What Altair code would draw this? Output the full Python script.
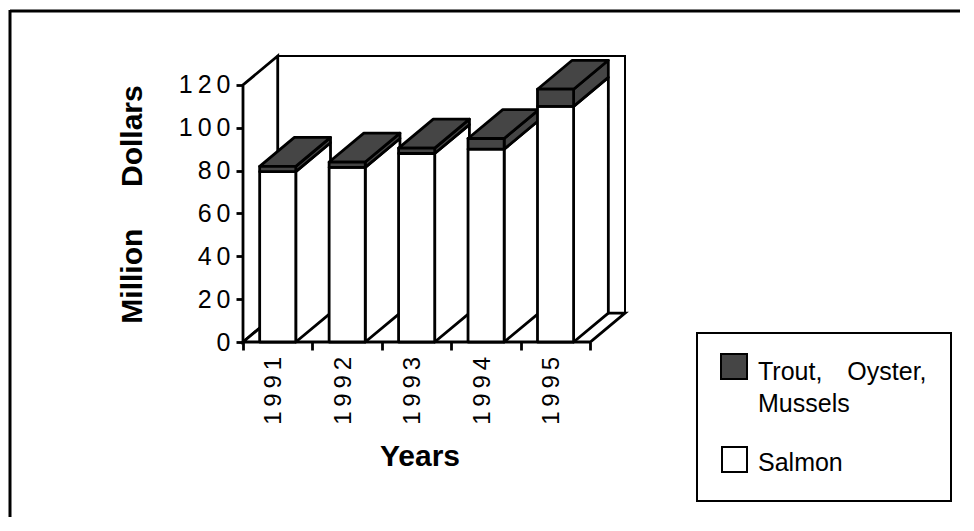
import altair as alt
import pandas as pd

# ---------------- data ----------------
years = ["1991", "1992", "1993", "1994", "1995"]
salmon = [79.5, 81.5, 88.0, 90.0, 110.0]
trout = [2.5, 2.5, 2.5, 5.0, 8.0]
y_ticks = [0, 20, 40, 60, 80, 100, 120]
series_labels = ["Trout, Oyster, Mussels", "Salmon"]
y_title = "Million Dollars"
x_title = "Years"

# ---------------- layout / style ----------------
FONT = "Liberation Sans"
INK = "black"
WHITE = "white"
STIPPLE = "#454545"
DX, DY = 0.5, 13.5          # 3-D depth (x in slot units, y in value units)
BAR_L, BAR_W = 0.24, 0.52   # bar position inside its slot
YMAX = 120
N = len(years)
W, H = 382, 286
PAD_L, PAD_T = 235, 48
THIN = "\u2009"
NB = "\u00a0"
SW = 2.8

xs = alt.Scale(domain=[0, N + DX], nice=False, zero=False)
ys = alt.Scale(domain=[0, YMAX + DY], nice=False, zero=False)
x_axis = alt.Axis(values=list(range(N + 1)), labels=False, domain=False, grid=False,
                  tickSize=8, tickWidth=SW, tickColor=INK, title=None)
y_axis = alt.Axis(values=y_ticks, domain=False, grid=False, tickSize=7, tickWidth=SW,
                  tickColor=INK, labelFont=FONT, labelFontSize=25, labelColor=INK,
                  labelPadding=6,
                  labelExpr=f"join(split(datum.label, ''), '{THIN}')", title=None)


def X(f):
    return alt.X(f, type="quantitative", scale=xs, axis=x_axis)


def Y(f):
    return alt.Y(f, type="quantitative", scale=ys, axis=y_axis, stack=None)


# walls
back = pd.DataFrame([{"x": DX, "x2": N + DX, "y": DY, "y2": YMAX + DY}])
left_wall = pd.DataFrame([{"x": 0, "y": 0, "y2": YMAX},
                          {"x": DX, "y": DY, "y2": YMAX + DY}])
floor = pd.DataFrame([{"y": 0, "x": 0, "x2": N},
                      {"y": DY, "x": DX, "x2": N + DX}])

fronts, sides, tops = [], [], []
for i, (s, t) in enumerate(zip(salmon, trout)):
    L = i + BAR_L
    R = L + BAR_W
    segs = [(0, s, WHITE), (s, s + t, STIPPLE)]
    for k, (lo, hi, col) in enumerate(segs):
        fid = f"{i}-{k}"
        fronts.append(dict(x=L, x2=R, y=lo, y2=hi, fill=col))
        sides.append(dict(face=fid, x=R, y=lo, y2=hi, fill=col))
        sides.append(dict(face=fid, x=R + DX, y=lo + DY, y2=hi + DY, fill=col))
    top = s + t
    tops.append(dict(face=str(i), y=top, x=L, x2=R, fill=STIPPLE))
    tops.append(dict(face=str(i), y=top + DY, x=L + DX, x2=R + DX, fill=STIPPLE))

fronts = pd.DataFrame(fronts)
sides = pd.DataFrame(sides)
tops = pd.DataFrame(tops)

labels = pd.DataFrame({"x": [i + 0.45 for i in range(N)], "y": [0] * N,
                       "text": [THIN.join(y) for y in years]})

one = pd.DataFrame([{"a": 0}])
fill_enc = alt.Fill("fill:N", scale=None, legend=None)

frame_top = alt.Chart(one).mark_rule(color=INK, strokeWidth=3).encode(
    x=alt.value(-233), x2=alt.value(740), y=alt.value(-45))
frame_left = alt.Chart(one).mark_rule(color=INK, strokeWidth=3).encode(
    x=alt.value(-233), y=alt.value(-46), y2=alt.value(480))

back_l = alt.Chart(back).mark_rect(fill=WHITE, stroke=INK, strokeWidth=2).encode(
    x=X("x"), x2="x2", y=Y("y"), y2="y2")
left_l = alt.Chart(left_wall).mark_area(orient="vertical", fill=WHITE, stroke=INK,
                                         strokeWidth=SW).encode(x=X("x"), y=Y("y"), y2="y2")
floor_l = alt.Chart(floor).mark_area(orient="horizontal", fill=WHITE, stroke=INK,
                                      strokeWidth=SW).encode(y=Y("y"), x=X("x"), x2="x2")

sides_l = alt.Chart(sides).mark_area(orient="vertical", stroke=INK, strokeWidth=SW,
                                      strokeJoin="round").encode(
    x=X("x"), y=Y("y"), y2="y2", fill=fill_enc, detail="face:N")
tops_l = alt.Chart(tops).mark_area(orient="horizontal", stroke=INK, strokeWidth=SW,
                                    strokeJoin="round").encode(
    y=Y("y"), x=X("x"), x2="x2", fill=fill_enc, detail="face:N")
fronts_l = alt.Chart(fronts).mark_rect(stroke=INK, strokeWidth=SW, strokeJoin="round").encode(
    x=X("x"), x2="x2", y=Y("y"), y2="y2", fill=fill_enc)

xlab_l = alt.Chart(labels).mark_text(angle=270, align="right", baseline="middle",
                                      font=FONT, fontSize=24, color=INK, yOffset=15).encode(
    x=alt.X("x:Q", scale=xs, axis=x_axis), y=alt.Y("y:Q", scale=ys, axis=y_axis),
    text="text:N")

ytitle_l = alt.Chart(one).mark_text(angle=270, align="center", baseline="middle",
                                     font=FONT, fontSize=30, fontWeight="bold", color=INK).encode(
    x=alt.value(-110), y=alt.value(148.5),
    text=alt.value(y_title.replace(" ", NB * 5)))
xtitle_l = alt.Chart(one).mark_text(align="center", baseline="middle", font=FONT,
                                     fontSize=30, fontWeight="bold", color=INK).encode(
    x=alt.value(177), y=alt.value(401), text=alt.value(x_title))

# legend (drawn by hand to match the boxed legend)
leg_box = alt.Chart(one).mark_rect(fill=WHITE, stroke=INK, strokeWidth=2).encode(
    x=alt.value(454), x2=alt.value(708), y=alt.value(277), y2=alt.value(445))
leg = pd.DataFrame({
    "label": [series_labels[0].replace(", O", ",\u2002\u2002O").replace(", M", ",\nM"),
              series_labels[1]],
    "fill": [STIPPLE, WHITE],
    "sx": [478, 479], "sx2": [504, 504],
    "sy": [298, 391], "sy2": [323, 416],
    "tx": [515, 515], "ty": [324, 415],
})
leg_sw = alt.Chart(leg).mark_rect(stroke=INK, strokeWidth=2).encode(
    x=alt.X("sx:Q", scale=None), x2="sx2", y=alt.Y("sy:Q", scale=None), y2="sy2",
    fill=fill_enc)
leg_tx = alt.Chart(leg).mark_text(align="left", baseline="alphabetic", font=FONT,
                                   fontSize=25, color=INK, lineBreak="\n", lineHeight=32).encode(
    x=alt.X("tx:Q", scale=None), y=alt.Y("ty:Q", scale=None), text="label:N")

chart = alt.layer(
    frame_top, frame_left, back_l, left_l, floor_l, sides_l, tops_l, fronts_l,
    xlab_l, ytitle_l, xtitle_l, leg_box, leg_sw, leg_tx
).resolve_scale(x="shared", y="shared").properties(
    width=W, height=H,
    autosize=alt.AutoSizeParams(type="none"),
    padding={"left": PAD_L, "top": PAD_T, "right": 335, "bottom": 175},
    background="white",
).configure_view(stroke=None)

chart.save("out.html", embed_options={"renderer": "svg", "actions": False})
